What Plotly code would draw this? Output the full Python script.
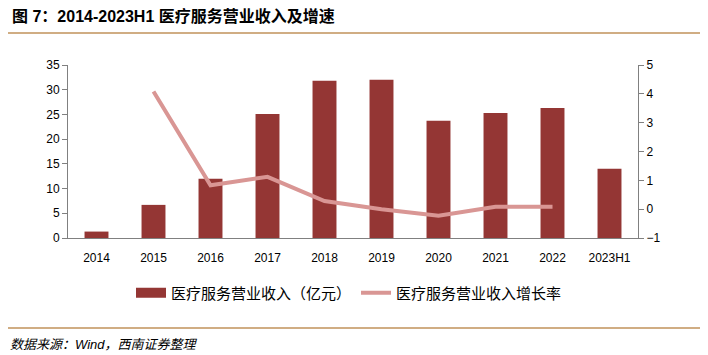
import plotly.graph_objects as go

categories = ["2014", "2015", "2016", "2017", "2018", "2019", "2020", "2021", "2022", "2023H1"]
revenue = [1.3, 6.7, 12.0, 25.1, 31.8, 32.0, 23.7, 25.3, 26.3, 14.0]
growth = [None, 4.08, 0.83, 1.12, 0.28, 0.0, -0.23, 0.08, 0.08, None]

bar_color = "#943634"
line_color = "#D99694"
axis_color = "#808080"
font_latin = "Liberation Sans, Arial, sans-serif"
font_cjk = "Noto Sans CJK SC, sans-serif"

fig = go.Figure()
fig.add_trace(go.Bar(
    x=categories, y=revenue, name="医疗服务营业收入（亿元）", showlegend=False,
    marker=dict(color=bar_color, line=dict(width=0)), width=0.42, yaxis="y"))
# legend swatch for bars (wide rectangle as in the reference)
fig.add_trace(go.Scatter(
    x=[categories[0]], y=[None], name="医疗服务营业收入（亿元）", mode="lines",
    line=dict(color=bar_color, width=10), yaxis="y", showlegend=True))
fig.add_trace(go.Scatter(
    x=categories, y=growth, name="医疗服务营业收入增长率", mode="lines",
    line=dict(color=line_color, width=4), yaxis="y2", connectgaps=False))

fig.update_layout(
    width=708, height=355,
    margin=dict(l=68, r=70, t=65, b=117, autoexpand=False),
    plot_bgcolor="white", paper_bgcolor="white",
    showlegend=True,
    legend=dict(orientation="h", x=(131-68)/570, xanchor="left", y=-(293-238)/173, yanchor="middle",
                font=dict(family=font_cjk, size=15, color="#000"),
                tracegroupgap=0, bgcolor="rgba(0,0,0,0)"),
    xaxis=dict(showline=True, linecolor=axis_color, linewidth=1, showgrid=False,
               ticks="", ticklabelstandoff=9,
               tickfont=dict(family=font_latin, size=12, color="#000"),
               zeroline=False),
    yaxis=dict(range=[0, 35], dtick=5, showline=True, linecolor=axis_color, linewidth=1,
               ticks="outside", ticklen=5, tickcolor=axis_color, showgrid=False,
               zeroline=False, tickfont=dict(family=font_latin, size=12, color="#000")),
    yaxis2=dict(range=[-1, 5], dtick=1, overlaying="y", side="right", showline=True,
                linecolor=axis_color, linewidth=1, ticks="outside", ticklen=5,
                tickcolor=axis_color, showgrid=False, zeroline=False,
                tickfont=dict(family=font_latin, size=12, color="#000")),
    shapes=[
        dict(type="line", xref="paper", yref="paper", x0=-60/570, x1=(700-68)/570,
             y0=1 + 32/173, y1=1 + 32/173, line=dict(color="#C0925A", width=1.5)),
        dict(type="line", xref="paper", yref="paper", x0=-60/570, x1=(700-68)/570,
             y0=-(328-238)/173, y1=-(328-238)/173, line=dict(color="#C0925A", width=1.5)),
    ],
    annotations=[
        dict(text="<b>图 7：2014-2023H1 医疗服务营业收入及增速</b>", xref="paper", yref="paper",
             x=-58/570, y=1 + (65-16)/173, xanchor="left", yanchor="middle", showarrow=False,
             font=dict(family="Liberation Sans, Noto Sans CJK SC, sans-serif", size=16, color="#000")),
        dict(text="<i>数据来源：Wind，西南证券整理</i>", xref="paper", yref="paper",
             x=-60/570, y=-(344-238)/173, xanchor="left", yanchor="middle", showarrow=False,
             font=dict(family="Liberation Sans, Noto Sans CJK SC, sans-serif", size=13, color="#000")),
    ],
)

fig.write_html("out.html", config={"displayModeBar": False},
               post_script="document.body.style.margin='0px';document.body.style.overflow='hidden';")
